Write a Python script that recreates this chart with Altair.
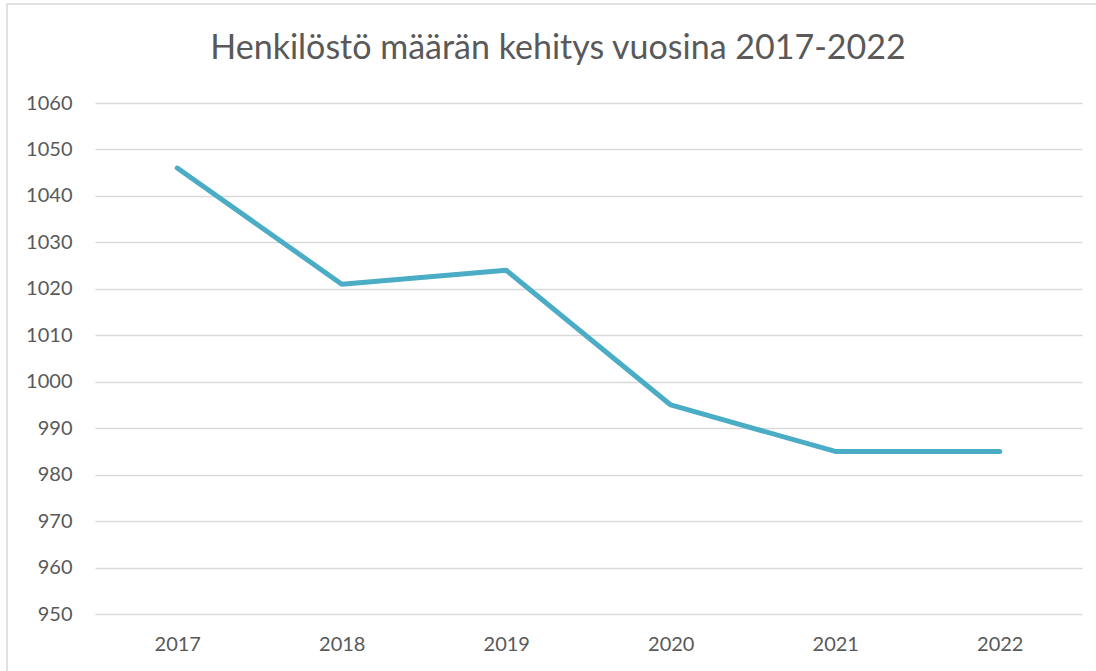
import altair as alt
import pandas as pd

years = ["2017", "2018", "2019", "2020", "2021", "2022"]
staff = [1046, 1021, 1024, 995, 985, 985]
y_ticks = [950, 960, 970, 980, 990, 1000, 1010, 1020, 1030, 1040, 1050, 1060]
title_text = "Henkilöstö määrän kehitys vuosina 2017-2022"

df = pd.DataFrame({"year": years, "staff": staff})

FONT = "Lato"
GREY = "#595959"

border = alt.Chart(pd.DataFrame({"a": [0]})).mark_rect(
    fill=None, stroke="#d9d9d9", strokeWidth=1.5
).encode(
    x=alt.value(-88), x2=alt.value(1010), y=alt.value(-99), y2=alt.value(600)
)

title = alt.Chart(pd.DataFrame({"t": [title_text]})).mark_text(
    font=FONT, fontSize=34, color=GREY, align="center", baseline="middle"
).encode(
    text="t:N", x=alt.value(463), y=alt.value(-54)
)

line = alt.Chart(df).mark_line(
    color="#4BACC6", strokeWidth=5, strokeCap="round", strokeJoin="round"
).encode(
    x=alt.X("year:N", sort=years, title=None,
            scale=alt.Scale(paddingInner=0, paddingOuter=0.5),
            axis=alt.Axis(labelAngle=0, domain=False, ticks=False, labelPadding=20,
                          labelFont=FONT, labelFontSize=20, labelColor=GREY, grid=False)),
    y=alt.Y("staff:Q", title=None,
            scale=alt.Scale(domain=[950, 1060], nice=False, zero=False),
            axis=alt.Axis(values=y_ticks, format="d", domain=False, ticks=False, labelPadding=23,
                          labelFont=FONT, labelFontSize=20, labelColor=GREY,
                          grid=True, gridColor="#d9d9d9", gridWidth=1.5)),
)

chart = alt.layer(border, line, title).properties(
    width=987, height=511,
    autosize=alt.AutoSizeParams(type="none"),
    padding={"left": 95, "top": 103, "right": 14, "bottom": 57},
    background="white",
).configure_view(stroke=None)

chart.save("out.html", embed_options={"renderer": "svg", "actions": False})
